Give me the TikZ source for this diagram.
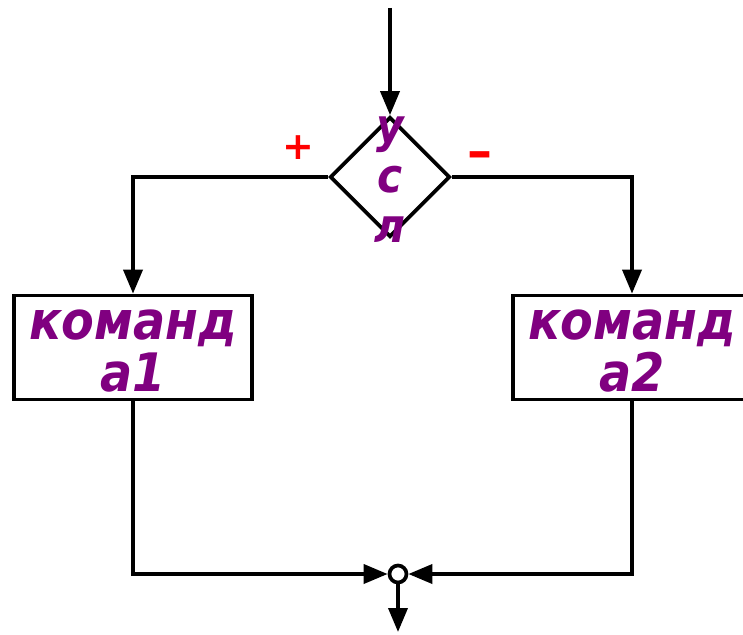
\documentclass[tikz,border=0pt]{standalone}
\usepackage{fontspec}
\setmainfont{DejaVu Sans}
\newfontfamily\condfont{DejaVu Sans Condensed}
\usetikzlibrary{shapes.geometric,arrows.meta}
\definecolor{txt}{RGB}{128,0,128}
\begin{document}
\begin{tikzpicture}[x=1pt,y=-1pt, line width=3.7pt,
  arr/.style={-{Triangle[length=24pt,width=19pt]}},
  cmd/.style={draw, rectangle, minimum width=238pt, minimum height=104pt, inner sep=0pt, fill=white},
  lbl/.style={text=txt, font=\condfont\fontsize{53}{52}\selectfont\bfseries\itshape, align=center, inner sep=0pt},
  qlbl/.style={text=txt, font=\condfont\fontsize{47}{50}\selectfont\bfseries\itshape, align=center, inner sep=0pt},
  cond/.style={draw, diamond, minimum width=120pt, minimum height=120pt, inner sep=0pt},
  sign/.style={text=red, font=\bfseries, inner sep=0pt},
  junc/.style={draw, circle, fill=white, minimum size=17pt, inner sep=0pt}
]
\useasboundingbox (0,0) rectangle (743,634);
\coordinate (start) at (390,8);
\coordinate (end) at (398,632);
\node[cond] (dia) at (390,177) {};
\node[qlbl] (q) at (390,180) {у\\с\\л};
\node[cmd] (b1) at (133,347.5) {};
\node[lbl] (t1) at (133,351) {команд\\а1};
\node[cmd] (b2) at (632,347.5) {};
\node[lbl] (t2) at (632,351) {команд\\а2};
\node[junc] (j) at (398,574) {};
\node[sign, font=\fontsize{38}{38}\selectfont\bfseries] (plus) at (298,148) {+};
\node[sign, font=\fontsize{50}{50}\selectfont\bfseries] (minus) at (480,160) {–};
\draw[arr] (start) -- (dia.north);
\draw[arr] (dia.west) -| (b1.north);
\draw[arr] (dia.east) -| (b2.north);
\draw[arr] (b1.south) |- (j.west);
\draw[arr] (b2.south) |- (j.east);
\draw[arr] (j.south) -- (end);
\end{tikzpicture}
\end{document}
